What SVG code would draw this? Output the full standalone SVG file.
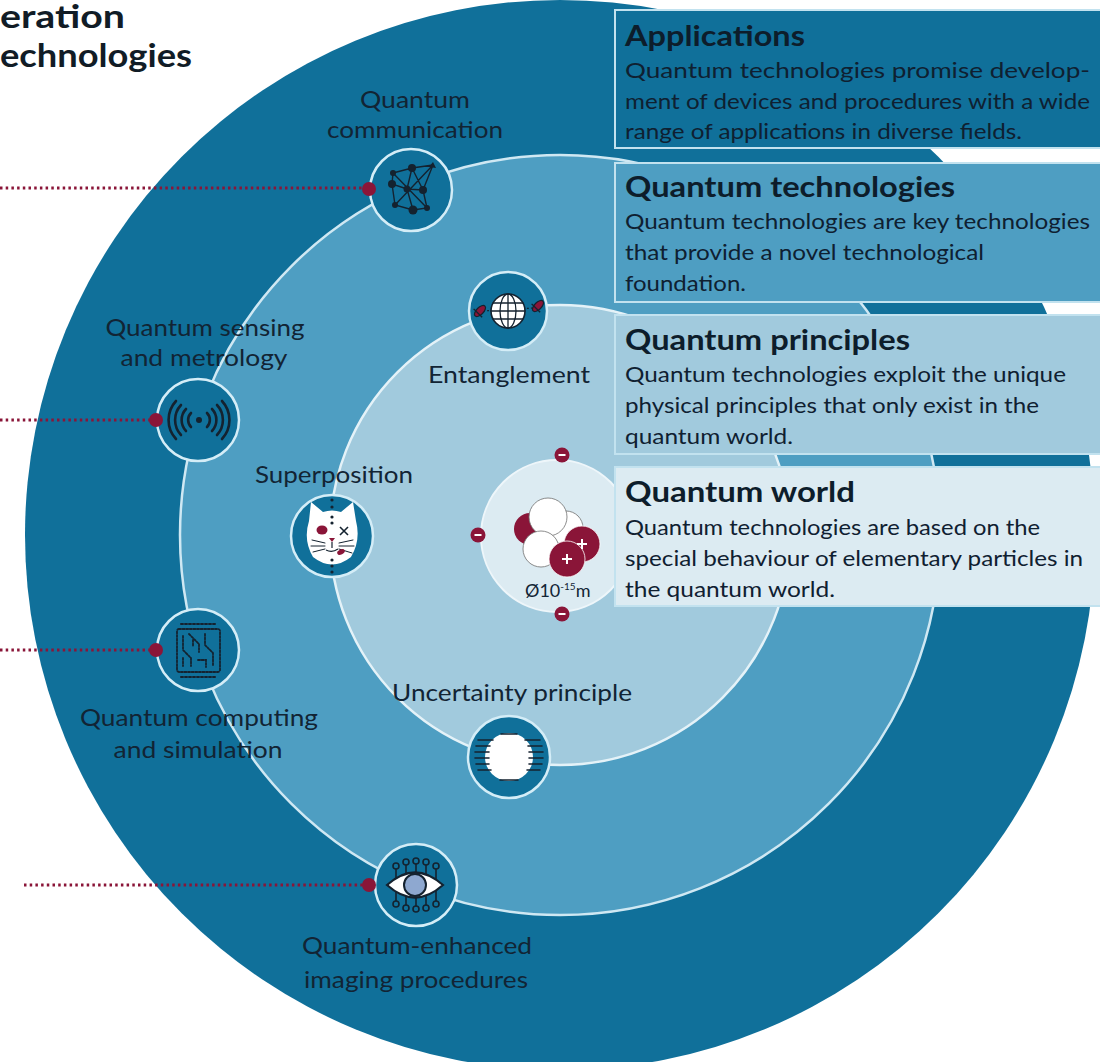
<svg xmlns="http://www.w3.org/2000/svg" width="1100" height="1062" viewBox="0 0 1100 1062">
  <style>
    .title { font-family: Lato, "Noto Sans", "DejaVu Sans", sans-serif; font-weight: 700; font-size: 29px; fill: #0d1d2b; }
    .body { font-family: Lato, "Noto Sans", "DejaVu Sans", sans-serif; font-size: 21.5px; fill: #0f2031; }
    .label { font-family: Lato, "Noto Sans", "DejaVu Sans", sans-serif; font-size: 22.5px; fill: #122434; text-anchor: middle; }
    .head { font-family: Lato, "Noto Sans", "DejaVu Sans", sans-serif; font-weight: 700; font-size: 32px; fill: #111c26; }
    .icon { fill: #10709a; stroke: #d4edf7; stroke-width: 2.5; }
    .ink { fill: none; stroke: #14222f; stroke-linecap: round; }
    .dot { fill: #14222f; }
    .pin { fill: #8a1538; }
    .lead { fill: none; stroke: #8a1538; stroke-width: 3; stroke-dasharray: 2.5 3.2; }
    .box { stroke: #c2e2ef; stroke-width: 2; }
  </style>

  <rect width="1100" height="1062" fill="#ffffff"/>

  <!-- heading fragment, top left -->
  <text class="head" x="0" y="28" textLength="125" lengthAdjust="spacingAndGlyphs">eration</text>
  <text class="head" x="0" y="67" textLength="192" lengthAdjust="spacingAndGlyphs">echnologies</text>

  <!-- concentric layers -->
  <g id="rings">
    <circle cx="560" cy="535" r="535" fill="#10709a"/>
    <circle cx="560" cy="535" r="380" fill="#4e9ec2" stroke="#cfe8f3" stroke-width="2.5"/>
    <circle cx="560" cy="535" r="230" fill="#a1cadd" stroke="#e4f2f8" stroke-width="2.5"/>
    <circle cx="557" cy="536" r="76" fill="#dcebf2" stroke="#eef6fa" stroke-width="2"/>
  </g>

  <!-- explanation panels -->
  <g id="box-applications">
    <rect class="box" x="615" y="10" width="490" height="138" fill="#10709a"/>
    <text class="title" x="625" y="46" textLength="180" lengthAdjust="spacingAndGlyphs">Applications</text>
    <text class="body" x="625" y="78" textLength="465" lengthAdjust="spacingAndGlyphs">Quantum technologies promise develop-</text>
    <text class="body" x="625" y="109" textLength="465" lengthAdjust="spacingAndGlyphs">ment of devices and procedures with a wide</text>
    <text class="body" x="625" y="139" textLength="397" lengthAdjust="spacingAndGlyphs">range of applications in diverse fields.</text>
  </g>
  <g id="box-technologies">
    <rect class="box" x="615" y="163" width="490" height="139" fill="#4e9ec2"/>
    <text class="title" x="625" y="197" textLength="330" lengthAdjust="spacingAndGlyphs">Quantum technologies</text>
    <text class="body" x="625" y="229" textLength="465" lengthAdjust="spacingAndGlyphs">Quantum technologies are key technologies</text>
    <text class="body" x="625" y="260" textLength="359" lengthAdjust="spacingAndGlyphs">that provide a novel technological</text>
    <text class="body" x="625" y="291" textLength="121" lengthAdjust="spacingAndGlyphs">foundation.</text>
  </g>
  <g id="box-principles">
    <rect class="box" x="615" y="315" width="490" height="139" fill="#a1cadd"/>
    <text class="title" x="625" y="350" textLength="285" lengthAdjust="spacingAndGlyphs">Quantum principles</text>
    <text class="body" x="625" y="382" textLength="441" lengthAdjust="spacingAndGlyphs">Quantum technologies exploit the unique</text>
    <text class="body" x="625" y="413" textLength="414" lengthAdjust="spacingAndGlyphs">physical principles that only exist in the</text>
    <text class="body" x="625" y="444" textLength="168" lengthAdjust="spacingAndGlyphs">quantum world.</text>
  </g>
  <g id="box-world">
    <rect class="box" x="615" y="467" width="490" height="139" fill="#dcebf2"/>
    <text class="title" x="625" y="502" textLength="230" lengthAdjust="spacingAndGlyphs">Quantum world</text>
    <text class="body" x="625" y="535" textLength="415" lengthAdjust="spacingAndGlyphs">Quantum technologies are based on the</text>
    <text class="body" x="625" y="566" textLength="458" lengthAdjust="spacingAndGlyphs">special behaviour of elementary particles in</text>
    <text class="body" x="625" y="597" textLength="210" lengthAdjust="spacingAndGlyphs">the quantum world.</text>
  </g>

  <!-- dotted leaders to the application icons -->
  <g id="connectors">
    <line class="lead" x1="0" y1="188" x2="368" y2="188"/>
    <line class="lead" x1="0" y1="420" x2="155" y2="420"/>
    <line class="lead" x1="0" y1="650" x2="155" y2="650"/>
    <line class="lead" x1="24" y1="885" x2="368" y2="885"/>
  </g>

  <!-- Quantum communication -->
  <g id="node-communication">
    <circle class="icon" cx="411" cy="190" r="41"/>
    <g class="ink" stroke-width="1.4">
      <path d="M393 173 L412 168 L433 165 M393 173 L392 184 L407 189 L423 190 M392 184 L395 205 L413 210 L427 208 L423 190 L433 165 M412 168 L407 189 L413 210 M393 173 L427 208 M395 205 L433 165 M412 168 L423 190"/>
    </g>
    <g class="dot">
      <circle cx="412" cy="168" r="4"/>
      <circle cx="393" cy="173" r="3"/>
      <circle cx="392" cy="184" r="4"/>
      <circle cx="407" cy="189" r="3.5"/>
      <circle cx="423" cy="190" r="4"/>
      <circle cx="395" cy="205" r="3"/>
      <circle cx="413" cy="210" r="4.5"/>
      <circle cx="427" cy="208" r="3"/>
      <path d="M433 162 L436 168 L429 167 Z"/>
    </g>
    <circle class="pin" cx="369" cy="189" r="7"/>
    <text class="label" x="415" y="108" textLength="110" lengthAdjust="spacingAndGlyphs">Quantum</text>
    <text class="label" x="415" y="138" textLength="176" lengthAdjust="spacingAndGlyphs">communication</text>
  </g>

  <!-- Quantum sensing and metrology -->
  <g id="node-sensing">
    <circle class="icon" cx="198" cy="420" r="41"/>
    <circle class="dot" cx="199" cy="420" r="3"/>
    <g class="ink" stroke-width="2.6">
      <path d="M191 413 A10 10 0 0 0 191 427 M207 413 A10 10 0 0 1 207 427"/>
      <path d="M186 409 A16 16 0 0 0 186 431 M212 409 A16 16 0 0 1 212 431"/>
      <path d="M181 405 A22 22 0 0 0 181 435 M217 405 A22 22 0 0 1 217 435"/>
      <path d="M176 401 A28 28 0 0 0 176 439 M222 401 A28 28 0 0 1 222 439"/>
    </g>
    <circle class="pin" cx="156" cy="420" r="7"/>
    <text class="label" x="205" y="336" textLength="199" lengthAdjust="spacingAndGlyphs">Quantum sensing</text>
    <text class="label" x="204" y="366" textLength="167" lengthAdjust="spacingAndGlyphs">and metrology</text>
  </g>

  <!-- Quantum computing and simulation -->
  <g id="node-computing">
    <circle class="icon" cx="198" cy="650" r="41"/>
    <g class="ink" stroke-width="1.8" stroke-dasharray="2 1.6">
      <rect x="177" y="629" width="43" height="43" rx="2"/>
      <path d="M183 636 L183 650 L191 658 L191 666 M189 634 L199 644 L199 652 M205 634 L205 645 L213 653 L213 666 M183 658 L183 666 M198 660 L206 660 L206 667 M193 640 L193 646"/>
    </g>
    <g class="ink" stroke-width="2" stroke-dasharray="2 2">
      <path d="M181 624 L215 624 M181 677 L215 677"/>
    </g>
    <circle class="pin" cx="156" cy="650" r="7"/>
    <text class="label" x="199" y="726" textLength="238" lengthAdjust="spacingAndGlyphs">Quantum computing</text>
    <text class="label" x="198" y="758" textLength="169" lengthAdjust="spacingAndGlyphs">and simulation</text>
  </g>

  <!-- Quantum-enhanced imaging procedures -->
  <g id="node-imaging">
    <circle class="icon" cx="416" cy="885" r="41"/>
    <g class="ink" stroke-width="1.6">
      <path d="M396 879 L396 869 M406 877 L406 865 M416 876 L416 864 M426 877 L426 865 M436 879 L436 869"/>
      <path d="M396 891 L396 901 M406 893 L406 905 M416 894 L416 906 M426 893 L426 905 M436 891 L436 901"/>
      <circle cx="396" cy="866" r="3" fill="#10709a"/>
      <circle cx="406" cy="862" r="3" fill="#10709a"/>
      <circle cx="416" cy="861" r="3" fill="#10709a"/>
      <circle cx="426" cy="862" r="3" fill="#10709a"/>
      <circle cx="436" cy="866" r="3" fill="#10709a"/>
      <circle cx="396" cy="904" r="3" fill="#10709a"/>
      <circle cx="406" cy="908" r="3" fill="#10709a"/>
      <circle cx="416" cy="909" r="3" fill="#10709a"/>
      <circle cx="426" cy="908" r="3" fill="#10709a"/>
      <circle cx="436" cy="904" r="3" fill="#10709a"/>
    </g>
    <path d="M387 885 Q415 860 443 885 Q415 910 387 885 Z" fill="#ffffff" stroke="#14222f" stroke-width="2.2"/>
    <circle cx="415" cy="885" r="11" fill="#8ea8d0" stroke="#14222f" stroke-width="2"/>
    <circle class="pin" cx="369" cy="885" r="7"/>
    <text class="label" x="417" y="954" textLength="230" lengthAdjust="spacingAndGlyphs">Quantum-enhanced</text>
    <text class="label" x="416" y="988" textLength="224" lengthAdjust="spacingAndGlyphs">imaging procedures</text>
  </g>

  <!-- Entanglement -->
  <g id="node-entanglement">
    <circle class="icon" cx="508" cy="311" r="39"/>
    <path d="M483 311 L533 308" fill="none" stroke="#14222f" stroke-width="1.2" stroke-dasharray="2 2"/>
    <circle cx="508" cy="311" r="17" fill="#ffffff" stroke="#14222f" stroke-width="1.6"/>
    <g class="ink" stroke-width="1.3">
      <ellipse cx="508" cy="311" rx="8" ry="17"/>
      <path d="M508 294 L508 328 M491 311 L525 311 M493 303 L523 303 M493 319 L523 319"/>
    </g>
    <g transform="translate(480 311) rotate(-45)">
      <ellipse cx="0" cy="0" rx="7" ry="3.5" fill="#8a1538" stroke="#14222f" stroke-width="1.2"/>
      <path d="M-3 -6 L-3 6" stroke="#14222f" stroke-width="1.4"/>
    </g>
    <g transform="translate(538 306) rotate(-45)">
      <ellipse cx="0" cy="0" rx="7" ry="3.5" fill="#8a1538" stroke="#14222f" stroke-width="1.2"/>
      <path d="M-3 -6 L-3 6" stroke="#14222f" stroke-width="1.4"/>
    </g>
    <text class="label" x="509" y="383" textLength="162" lengthAdjust="spacingAndGlyphs">Entanglement</text>
  </g>

  <!-- Superposition -->
  <g id="node-superposition">
    <circle class="icon" cx="332" cy="536" r="41"/>
    <path d="M309 521 L311 502 L323 512 Q332 509 341 512 L353 502 L356 521 Q361 540 351 557 Q332 572 313 557 Q303 540 309 521 Z" fill="#ffffff"/>
    <g class="ink" stroke-width="1" stroke="#7b8590">
      <path d="M312 540 L325 543 M311 546 L325 546 M313 552 L325 549 M339 543 L353 540 M339 546 L354 546 M339 549 L352 553"/>
    </g>
    <ellipse cx="322" cy="530" rx="5.5" ry="4.5" fill="#8a1538"/>
    <path d="M340 527 L348 535 M348 527 L340 535" stroke="#14222f" stroke-width="1.6"/>
    <path d="M329 538 L335 538 L332 542 Z" fill="#8a1538"/>
    <path d="M332 542 L332 548 M326 550 Q332 553 338 549" fill="none" stroke="#14222f" stroke-width="1.2"/>
    <ellipse cx="341" cy="552" rx="4" ry="2.5" fill="#8a1538" transform="rotate(-25 341 552)"/>
    <g class="dot">
      <circle cx="332" cy="500" r="1.6"/><circle cx="332" cy="507" r="1.6"/>
      <circle cx="332" cy="517" r="1.6"/><circle cx="332" cy="523" r="1.6"/>
      <circle cx="332" cy="560" r="1.6"/><circle cx="332" cy="566" r="1.6"/><circle cx="332" cy="572" r="1.6"/>
    </g>
    <text class="label" x="334" y="483" textLength="158" lengthAdjust="spacingAndGlyphs">Superposition</text>
  </g>

  <!-- Uncertainty principle -->
  <g id="node-uncertainty">
    <circle class="icon" cx="509" cy="757" r="41"/>
    <circle cx="509" cy="757" r="24" fill="#ffffff"/>
    <g class="ink" stroke-width="1.6">
      <path d="M493 740 L478 740 M490 746 L476 746 M489 752 L475 752 M489 758 L475 758 M489 764 L476 764 M491 770 L478 770"/>
      <path d="M525 740 L540 740 M528 746 L542 746 M529 752 L543 752 M529 758 L543 758 M529 764 L542 764 M527 770 L540 770"/>
      <path d="M501 734 L517 734 M500 780 L518 780"/>
    </g>
    <text class="label" x="512" y="701" textLength="240" lengthAdjust="spacingAndGlyphs">Uncertainty principle</text>
  </g>

  <!-- Quantum world: nucleus with electrons -->
  <g id="node-nucleus">
    <circle cx="530" cy="529" r="16" fill="#8a1538"/>
    <circle cx="566" cy="528" r="17" fill="#ffffff" stroke="#6f6f6f" stroke-width="0.8"/>
    <circle cx="548" cy="517" r="19" fill="#ffffff" stroke="#6f6f6f" stroke-width="0.8"/>
    <circle cx="541" cy="549" r="18" fill="#ffffff" stroke="#6f6f6f" stroke-width="0.8"/>
    <circle cx="582" cy="544" r="18" fill="#8a1538" stroke="#ffffff" stroke-width="0.8"/>
    <circle cx="567" cy="559" r="18" fill="#8a1538" stroke="#ffffff" stroke-width="0.8"/>
    <path d="M582 539 L582 549 M577 544 L587 544 M567 554 L567 564 M562 559 L572 559" stroke="#ffffff" stroke-width="2"/>
    <g>
      <circle class="pin" cx="562" cy="455" r="7.5"/>
      <circle class="pin" cx="478" cy="535" r="7.5"/>
      <circle class="pin" cx="562" cy="614" r="7.5"/>
      <path d="M558.5 455 L565.5 455 M474.5 535 L481.5 535 M558.5 614 L565.5 614" stroke="#ffffff" stroke-width="2"/>
    </g>
    <text font-family="Lato, 'Noto Sans', 'DejaVu Sans', sans-serif" font-size="18" fill="#132536" x="525" y="597">Ø10<tspan font-size="10" dy="-7">-15</tspan><tspan dy="7">m</tspan></text>
  </g>
</svg>
